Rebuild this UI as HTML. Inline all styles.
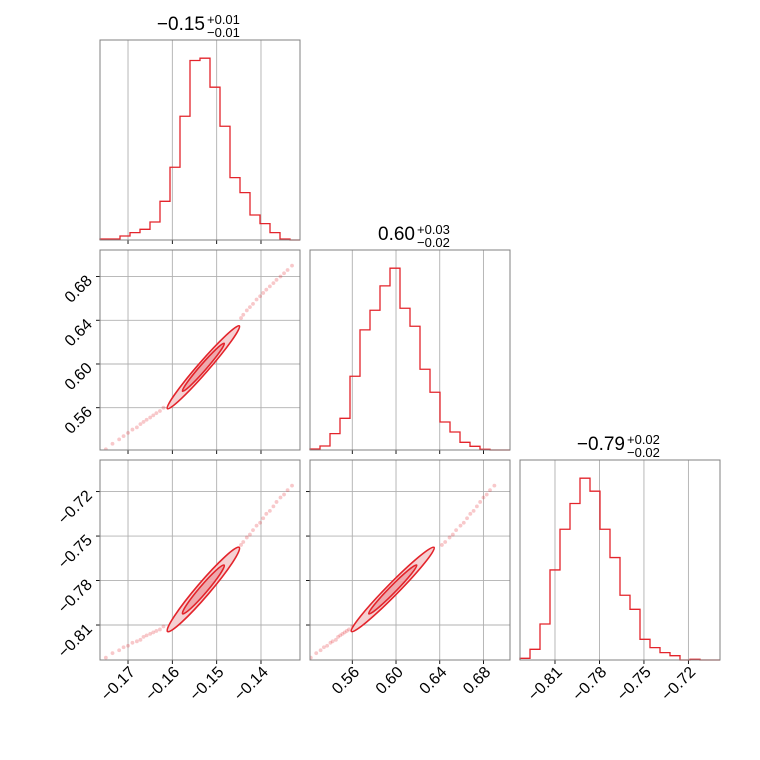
<!DOCTYPE html>
<html><head><meta charset="utf-8"><style>
html,body{margin:0;padding:0;background:#fff;}
svg{display:block;font-family:"Liberation Sans","DejaVu Sans",sans-serif;}
</style></head><body>
<svg id="c" width="760" height="760" viewBox="0 0 760 760" xmlns="http://www.w3.org/2000/svg"></svg>
<script>
// ---- data ----
const paramRanges = [[-0.17632, -0.13120], [0.5213, 0.7043], [-0.8336, -0.6987]];
const hist1Counts = [3,3,12,22,32,54,116,218,371,538,545,458,341,187,142,75,49,22,3,0];
const hist2Counts = [3,12,49,95,221,360,419,492,545,425,371,242,173,84,54,23,11,2,0,0];
const hist3Counts = [5,32,108,270,392,469,545,506,392,307,194,152,62,37,22,13,0,2,0,0];
const paramMeans = [-0.153, 0.597, -0.786];
const paramSds = [0.0043, 0.020, 0.015];
const corr10 = 0.98, corr20 = 0.97, corr21 = 0.98;
const contourSigmas = [1.9, 1.1];
const ticks1 = [-0.17, -0.16, -0.15, -0.14];
const ticks2 = [0.56, 0.60, 0.64, 0.68];
const ticks3 = [-0.81, -0.78, -0.75, -0.72];
const tickLabels1 = ["\u22120.17", "\u22120.16", "\u22120.15", "\u22120.14"];
const tickLabels2 = ["0.56", "0.60", "0.64", "0.68"];
const tickLabels3 = ["\u22120.81", "\u22120.78", "\u22120.75", "\u22120.72"];
const titleMain = ["\u22120.15", "0.60", "\u22120.79"];
const titleUp = ["+0.01", "+0.03", "+0.02"];
const titleDown = ["\u22120.01", "\u22120.02", "\u22120.02"];
const tail1 = [-0.1750,-0.1735,-0.1720,-0.1710,-0.1700,-0.1690,-0.1680,-0.1672,-0.1665,-0.1658,-0.1650,-0.1643,-0.1636,-0.1628,-0.1620,-0.1445,-0.1440,-0.1432,-0.1425,-0.1418,-0.1410,-0.1402,-0.1395,-0.1388,-0.1380,-0.1372,-0.1365,-0.1356,-0.1348,-0.1340,-0.1330];
const tail2 = [0.522,0.527,0.531,0.534,0.537,0.540,0.542,0.545,0.547,0.549,0.551,0.553,0.555,0.557,0.560,0.642,0.645,0.649,0.652,0.655,0.659,0.662,0.665,0.668,0.671,0.674,0.677,0.680,0.683,0.686,0.690];
const tail3 = [-0.832,-0.829,-0.827,-0.825,-0.824,-0.822,-0.821,-0.820,-0.818,-0.817,-0.816,-0.815,-0.814,-0.813,-0.811,-0.756,-0.754,-0.751,-0.749,-0.746,-0.743,-0.741,-0.738,-0.735,-0.733,-0.730,-0.727,-0.724,-0.722,-0.719,-0.716];

const svg = document.getElementById('c');
const NS = 'http://www.w3.org/2000/svg';
const RED = '#e3242b';
const PW = 200;
const colX = [100, 310, 520], rowY = [40, 250, 460];
const hists = [hist1Counts, hist2Counts, hist3Counts];
const ticks = [ticks1, ticks2, ticks3];
const tickLabels = [tickLabels1, tickLabels2, tickLabels3];
const tails = [tail1, tail2, tail3];
const corr = {'1,0': corr10, '2,0': corr20, '2,1': corr21};

function mk(tag, attrs, parent) {
  const e = document.createElementNS(NS, tag);
  for (const k in attrs) e.setAttribute(k, attrs[k]);
  (parent || svg).appendChild(e);
  return e;
}
function sx(p, v, col) { const r = paramRanges[p]; return colX[col] + (v - r[0]) / (r[1] - r[0]) * PW; }
function sy(p, v, row) { const r = paramRanges[p]; return rowY[row] + PW - (v - r[0]) / (r[1] - r[0]) * PW; }

for (let row = 0; row < 3; row++) {
  for (let col = 0; col <= row; col++) {
    const x0 = colX[col], y0 = rowY[row];
    const g = mk('g', {});
    
    
    mk('rect', {x: x0, y: y0, width: PW, height: PW, fill: '#fff'}, g);
    ticks[col].forEach(t => {
      const gx = sx(col, t, col);
      const l = mk('line', {x1: gx, x2: gx, y1: y0, y2: y0 + PW, stroke: '#b0b0b0', 'stroke-width': 0.9}, g);
      
      
      const tk = mk('line', {x1: gx, x2: gx, y1: y0 + PW, y2: y0 + PW + 4, stroke: '#000', 'stroke-width': 0.9}, g);
      
      
    });
    if (row !== col) {
      ticks[row].forEach(t => {
        const gy = sy(row, t, row);
        const l = mk('line', {x1: x0, x2: x0 + PW, y1: gy, y2: gy, stroke: '#b0b0b0', 'stroke-width': 0.9}, g);
        
        
        const tk = mk('line', {x1: x0 - 4, x2: x0, y1: gy, y2: gy, stroke: '#000', 'stroke-width': 0.9}, g);
        
        
      });
    }
    if (row === col) {
      const counts = hists[row];
      const maxC = Math.max(...counts) * 1.1;
      const n = counts.length;
      let d = 'M' + x0 + ',' + (y0 + PW);
      counts.forEach((c, i) => {
        const yy = y0 + PW - c / maxC * PW;
        d += ' L' + (x0 + i * PW / n) + ',' + yy + ' L' + (x0 + (i + 1) * PW / n) + ',' + yy;
      });
      const p = mk('path', {d: d, fill: 'none', stroke: RED, 'stroke-width': 1.3}, g);
      
      
    } else {
      const cp = 'clip' + row + col;
      const cl = mk('clipPath', {id: cp}, g);
      mk('rect', {x: x0, y: y0, width: PW, height: PW}, cl);
      const inner = mk('g', {'clip-path': 'url(#' + cp + ')'}, g);
      tails[col].forEach((v, i) => {
        const c = mk('circle', {cx: sx(col, v, col), cy: sy(row, tails[row][i], row), r: 1.9, fill: RED, 'fill-opacity': 0.25}, inner);
        
        
      });
      const a = paramSds[col] * PW / (paramRanges[col][1] - paramRanges[col][0]);
      const b = paramSds[row] * PW / (paramRanges[row][1] - paramRanges[row][0]);
      const rho = corr[row + ',' + col];
      const cxx = a * a, cyy = b * b, cxy = -rho * a * b;
      const tr = (cxx + cyy) / 2, dd = Math.sqrt(((cxx - cyy) / 2) ** 2 + cxy * cxy);
      const l1 = tr + dd, l2 = tr - dd;
      const ang = 0.5 * Math.atan2(2 * cxy, cxx - cyy) * 180 / Math.PI;
      const mx = sx(col, paramMeans[col], col), my = sy(row, paramMeans[row], row);
      const fills = ['#f5d0d2', '#eea9ad'];
      contourSigmas.forEach((k, i) => {
        const e = mk('ellipse', {cx: mx, cy: my, rx: k * Math.sqrt(l1), ry: k * Math.sqrt(Math.max(l2, 0.5)), transform: 'rotate(' + ang + ' ' + mx + ' ' + my + ')', fill: fills[i], stroke: RED, 'stroke-width': 1.6}, inner);
        
        
      });
    }
    const fr = mk('rect', {x: x0, y: y0, width: PW, height: PW, fill: 'none', stroke: '#808080', 'stroke-width': 1}, g);
    
    
    if (row === 2) {
      ticks[col].forEach((t, i) => {
        const tx = sx(col, t, col) + 8, ty = 673;
        const txt = mk('text', {x: tx, y: ty, 'font-size': 16, 'text-anchor': 'end', transform: 'rotate(-45 ' + tx + ' ' + ty + ')', fill: '#000'});
        txt.textContent = tickLabels[col][i];
        
        
      });
    }
    if (col === 0 && row > 0) {
      ticks[row].forEach((t, i) => {
        const tx = 93, ty = sy(row, t, row) + 5;
        const txt = mk('text', {x: tx, y: ty, 'font-size': 16, 'text-anchor': 'end', transform: 'rotate(-45 ' + tx + ' ' + ty + ')', fill: '#000'});
        txt.textContent = tickLabels[row][i];
        
        
      });
    }
  }
  const cx = colX[row] + 105, by = rowY[row] - 10;
  const tm = mk('text', {x: cx, y: by, 'font-size': 19, 'text-anchor': 'end', fill: '#000'});
  tm.textContent = titleMain[row];
  
  
  const tu = mk('text', {x: cx + 2, y: by - 6, 'font-size': 13, fill: '#000'});
  tu.textContent = titleUp[row];
  
  
  const td = mk('text', {x: cx + 2, y: by + 7, 'font-size': 13, fill: '#000'});
  td.textContent = titleDown[row];
  
  
}
</script>
</body></html>
